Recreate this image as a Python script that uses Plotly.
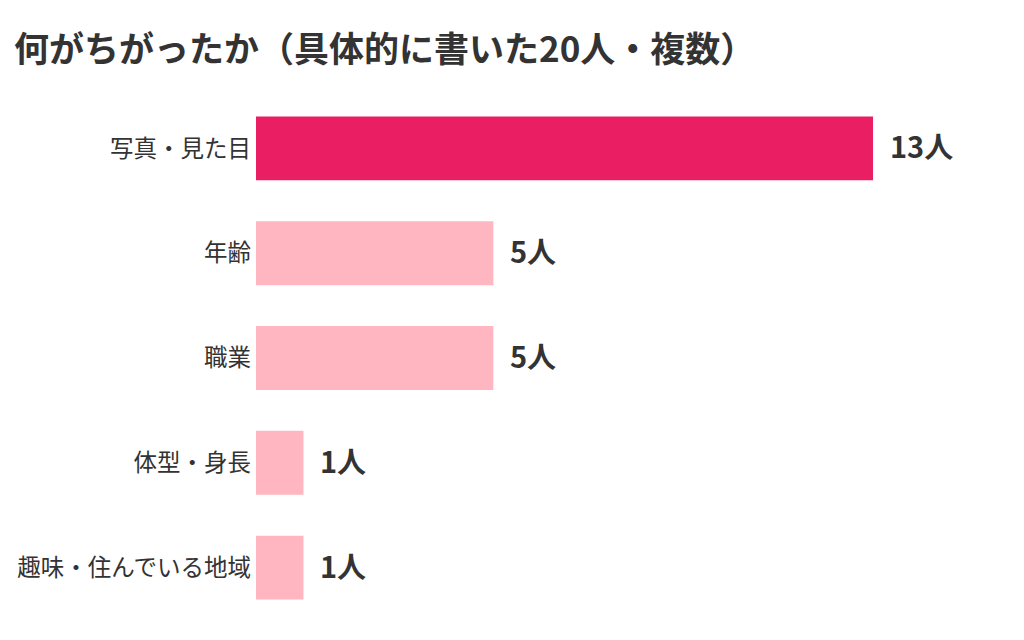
import plotly.graph_objects as go

# data
categories = ['写真・見た目', '年齢', '職業', '体型・身長', '趣味・住んでいる地域']
counts = [13, 5, 5, 1, 1]
value_labels = ['13人', '5人', '5人', '1人', '1人']
bar_colors = ['#E91E63', '#FFB6C1', '#FFB6C1', '#FFB6C1', '#FFB6C1']

font_name = 'Noto Sans CJK JP'

fig = go.Figure()
fig.add_trace(go.Bar(
    x=counts,
    y=categories,
    orientation='h',
    marker=dict(color=bar_colors, line=dict(width=0)),
    width=0.61,
    hoverinfo='skip',
))

# value labels just past the end of each bar
for cat, val, lab in zip(categories, counts, value_labels):
    fig.add_annotation(
        x=val, y=cat, text='<b>' + lab + '</b>',
        xanchor='left', yanchor='middle', xshift=15, yshift=3, showarrow=False,
        font=dict(family=font_name, size=29, color='#333333'),
    )

# the page adds an 8px body margin, so the margins are adjusted by 8
fig.update_layout(
    width=1024, height=640,
    paper_bgcolor='white', plot_bgcolor='white',
    margin=dict(l=248, r=28, t=88, b=28),
    title=dict(
        text='<b>何がちがったか（具体的に書いた20人・複数）</b>',
        xref='container', x=6 / 1024, xanchor='left',
        yref='container', y=1 - 42 / 640, yanchor='middle',
        font=dict(family=font_name, size=35, color='#333333'),
    ),
    xaxis=dict(range=[0, 15.76], visible=False, fixedrange=True),
    yaxis=dict(
        categoryorder='array', categoryarray=categories, autorange='reversed',
        showgrid=False, zeroline=False, showline=False, ticks='',
        ticklabelstandoff=4, automargin=False,
        tickfont=dict(family=font_name, size=23.5, color='#333333'),
    ),
    showlegend=False,
)

fig.write_html('out.html')
